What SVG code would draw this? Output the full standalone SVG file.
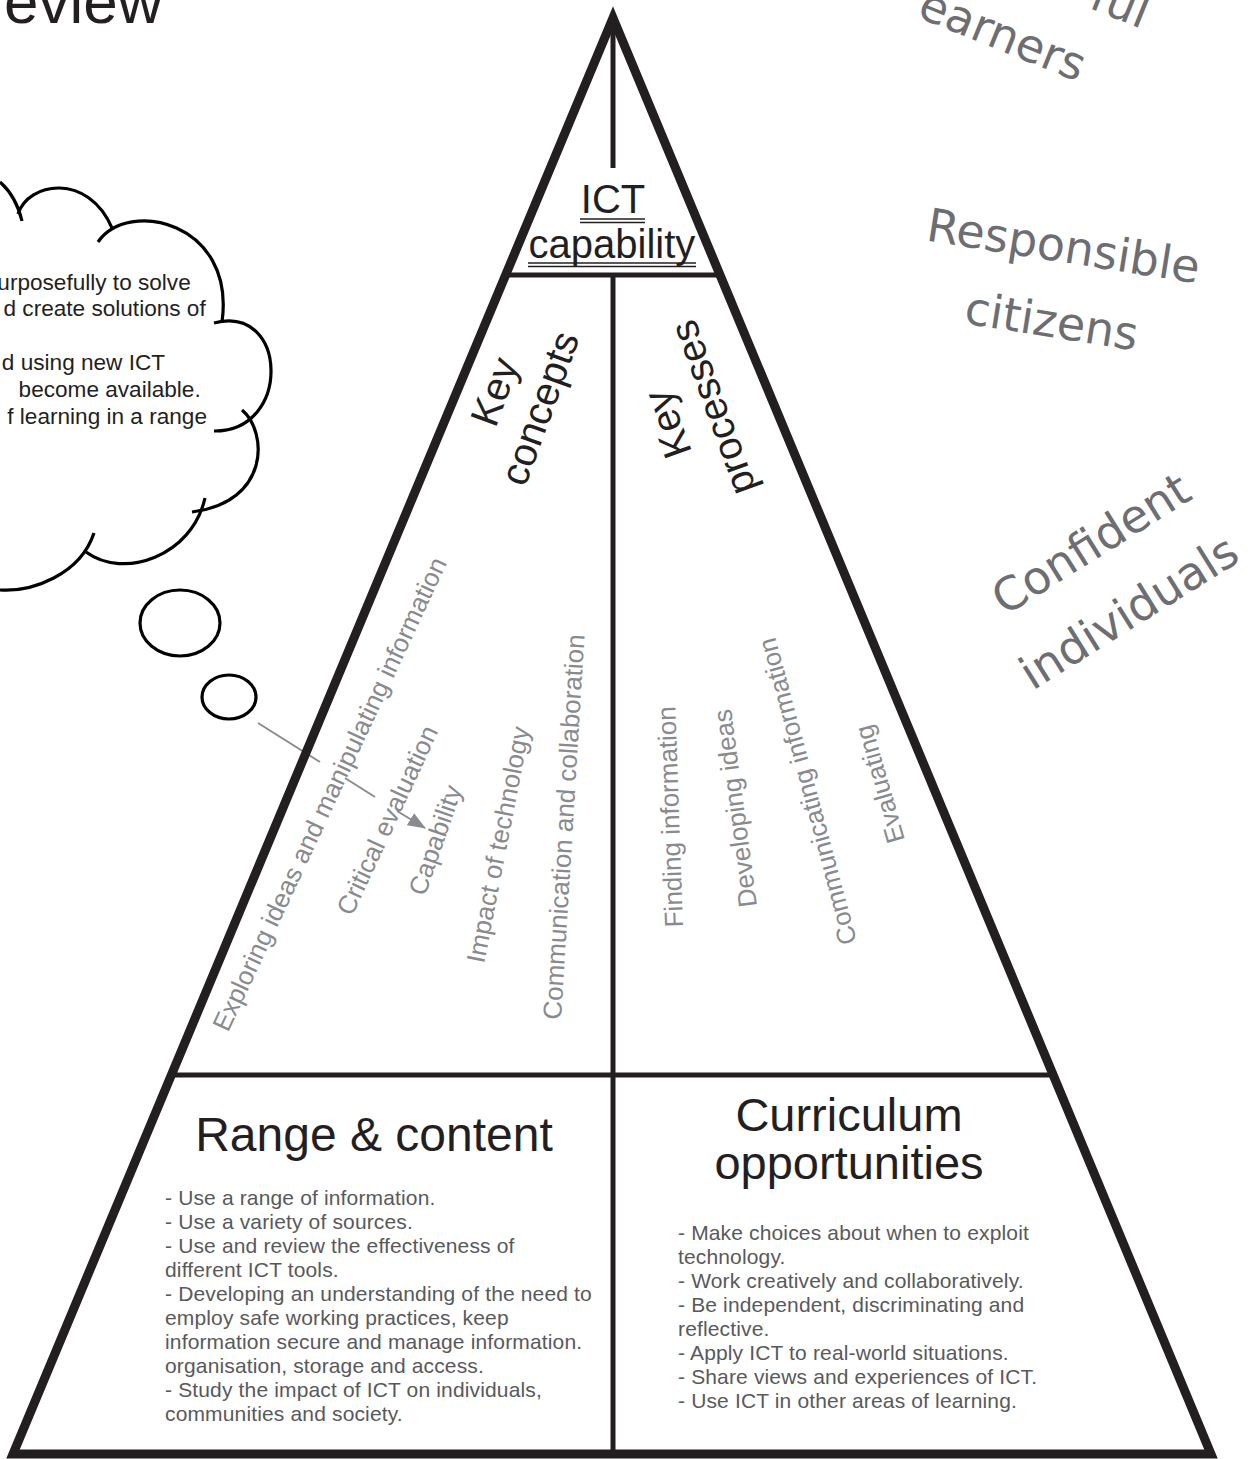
<svg xmlns="http://www.w3.org/2000/svg" width="1258" height="1459" viewBox="0 0 1258 1459">
<style>
.frame{fill:none;stroke:#231f20;stroke-width:9;stroke-linejoin:miter}
.div{stroke:#231f20;stroke-width:5;fill:none}
.ul{stroke:#231f20;stroke-width:1.6;fill:none}
.cloud{fill:none;stroke:#000;stroke-width:3.2;stroke-linecap:butt}
.t{font-family:'Liberation Sans',Arial,sans-serif;fill:#231f20}
.g{font-family:'Liberation Sans',Arial,sans-serif;fill:#898a8d;font-size:26px}
.l{font-family:'Liberation Sans',Arial,sans-serif;fill:#58595b;font-size:21px;letter-spacing:0.15px}
.h{font-family:'Comic Sans MS','DejaVu Sans',sans-serif;fill:#6d6e71;font-size:46px}
.conn{stroke:#8a8b8e;stroke-width:2;fill:none}
</style>
<defs>
<marker id="arr" viewBox="0 0 18 14" refX="17" refY="7" markerWidth="18" markerHeight="14" markerUnits="userSpaceOnUse" orient="auto">
<path d="M0,0 L18,7 L0,14 z" fill="#8a8b8e"/>
</marker>
</defs>
<rect width="1258" height="1459" fill="#fff"/>

<g id="title">
<text class="t" x="4" y="23" font-size="62">eview</text>
</g>

<g id="thought-cloud">
<path class="cloud" d="M0,182 Q16,196 22,221"/>
<path class="cloud" d="M18,214 C28,182 88,172 112,228"/>
<path class="cloud" d="M98,242 C128,198 236,222 222,322"/>
<path class="cloud" d="M214,323 C288,303 292,432 214,431"/>
<path class="cloud" d="M242,410 C268,432 270,502 192,512"/>
<path class="cloud" d="M205,498 C192,556 124,580 86,552"/>
<path class="cloud" d="M94,533 C80,575 32,592 0,590"/>
<text class="t" font-size="22.6" text-anchor="end">
<tspan x="197" y="290">urposefully to solve</tspan>
<tspan x="212" y="316">d create solutions of</tspan>
<tspan x="171" y="370">d using new ICT</tspan>
<tspan x="207" y="397">become available.</tspan>
<tspan x="207" y="424">f learning in a range</tspan>
</text>
<ellipse class="cloud" cx="180" cy="623" rx="40" ry="33"/>
<ellipse class="cloud" cx="229" cy="697" rx="27" ry="22"/>
</g>

<g id="connectors">
<line class="conn" x1="258" y1="723" x2="320" y2="762"/>
<line class="conn" x1="345" y1="778" x2="375" y2="797"/>
<line class="conn" x1="397" y1="811" x2="425" y2="828" marker-end="url(#arr)"/>
</g>

<g id="pyramid">
<path class="frame" d="M613,18 L1211,1454 L13,1454 Z"/>
<line class="div" x1="613" y1="18" x2="613" y2="168" stroke-width="4"/>
<line class="div" x1="505" y1="275" x2="721" y2="275"/>
<line class="div" x1="613" y1="275" x2="613" y2="1452"/>
<line class="div" x1="171" y1="1075" x2="1055" y2="1075" stroke-width="4.5"/>
</g>

<g id="ict-capability">
<text class="t" x="613" y="213" font-size="40" text-anchor="middle">ICT</text>
<line class="ul" x1="580" y1="219" x2="645" y2="219"/>
<line class="ul" x1="580" y1="222.5" x2="645" y2="222.5"/>
<text class="t" x="612" y="258" font-size="40" text-anchor="middle">capability</text>
<line class="ul" x1="528" y1="263" x2="696" y2="263"/>
<line class="ul" x1="528" y1="266.5" x2="696" y2="266.5"/>
</g>

<g id="key-concepts">
<g transform="translate(498,393) rotate(-70)">
<text class="t" font-size="40" text-anchor="middle"><tspan x="0" y="10">Key</tspan><tspan x="0" y="58">concepts</tspan></text>
</g>
<text class="g" transform="translate(228,1033) rotate(-65)">Exploring ideas and manipulating information</text>
<text class="g" transform="translate(352,917) rotate(-65)">Critical evaluation</text>
<text class="g" transform="translate(425,897) rotate(-71)">Capability</text>
<text class="g" transform="translate(484,964) rotate(-79)">Impact of technology</text>
<text class="g" transform="translate(561,1020) rotate(-86.5)">Communication and collaboration</text>
</g>

<g id="key-processes">
<g transform="translate(671,423) rotate(-110)">
<text class="t" font-size="40" text-anchor="middle"><tspan x="0" y="10">Key</tspan><tspan x="0" y="58">processes</tspan></text>
</g>
<text class="g" transform="translate(683,927) rotate(-92)">Finding information</text>
<text class="g" transform="translate(757,906) rotate(-97.5)">Developing ideas</text>
<text class="g" transform="translate(857,942) rotate(-105)">Communicating information</text>
<text class="g" transform="translate(905,840) rotate(-106)">Evaluating</text>
</g>

<g id="range-content">
<text class="t" x="374" y="1151" font-size="48" text-anchor="middle">Range &amp; content</text>
<text class="l">
<tspan x="165" y="1205">- Use a range of information.</tspan>
<tspan x="165" y="1229">- Use a variety of sources.</tspan>
<tspan x="165" y="1253">- Use and review the effectiveness of</tspan>
<tspan x="165" y="1277">different ICT tools.</tspan>
<tspan x="165" y="1301">- Developing an understanding of the need to</tspan>
<tspan x="165" y="1325">employ safe working practices, keep</tspan>
<tspan x="165" y="1349">information secure and manage information.</tspan>
<tspan x="165" y="1373">organisation, storage and access.</tspan>
<tspan x="165" y="1397">- Study the impact of ICT on individuals,</tspan>
<tspan x="165" y="1421">communities and society.</tspan>
</text>
</g>

<g id="curriculum-opportunities">
<text class="t" font-size="47" text-anchor="middle"><tspan x="849" y="1131">Curriculum</tspan><tspan x="849" y="1179">opportunities</tspan></text>
<text class="l">
<tspan x="678" y="1240">- Make choices about when to exploit</tspan>
<tspan x="678" y="1264">technology.</tspan>
<tspan x="678" y="1288">- Work creatively and collaboratively.</tspan>
<tspan x="678" y="1312">- Be independent, discriminating and</tspan>
<tspan x="678" y="1336">reflective.</tspan>
<tspan x="678" y="1360">- Apply ICT to real-world situations.</tspan>
<tspan x="678" y="1384">- Share views and experiences of ICT.</tspan>
<tspan x="678" y="1408">- Use ICT in other areas of learning.</tspan>
</text>
</g>

<g id="aims">
<g transform="translate(1078,82) rotate(22)">
<text class="h" text-anchor="end"><tspan x="39" y="-73">ful</tspan><tspan x="0" y="0">earners</tspan></text>
</g>
<g transform="translate(1063,250) rotate(9)">
<text class="h" text-anchor="middle"><tspan x="0" y="12">Responsible</tspan><tspan x="0" y="88">citizens</tspan></text>
</g>
<g transform="translate(1093,547) rotate(-32)">
<text class="h" text-anchor="middle"><tspan x="0" y="12">Confident</tspan><tspan x="-4" y="90">individuals</tspan></text>
</g>
</g>
</svg>
